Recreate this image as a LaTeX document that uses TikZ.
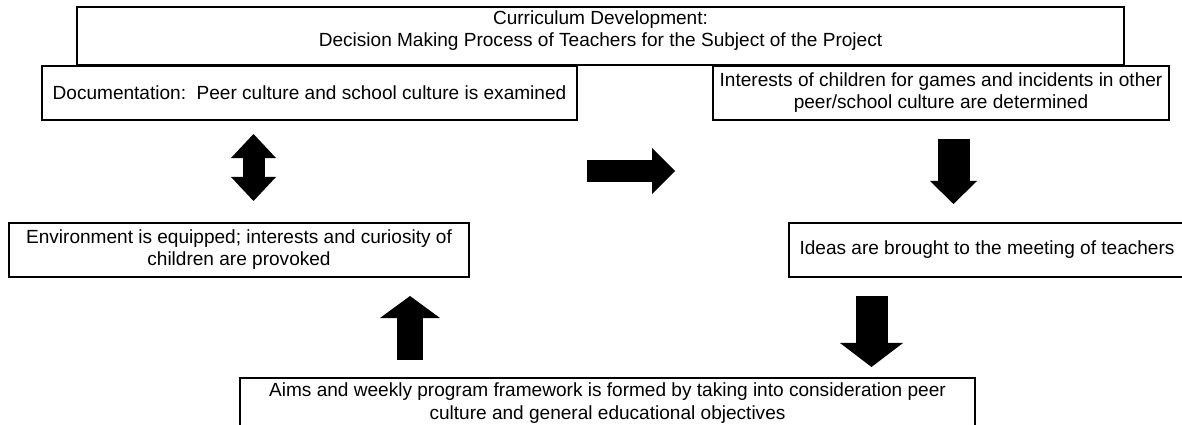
\documentclass[tikz,border=0pt]{standalone}
\usepackage{fontspec}
\setmainfont{Liberation Sans}
\usepackage{tikz}
\usetikzlibrary{arrows.meta, positioning}

\begin{document}
\begin{tikzpicture}[
    x=0.025cm, y=-0.025cm,
    stepbox/.style={draw, line width=1pt, inner sep=0pt, align=center, minimum height=1.35cm, font=\fontsize{13.55}{15.75}\selectfont},
    blockarrow/.style={line width=#1, line cap=butt}
]
    \useasboundingbox (0,0) rectangle (1182,425);

    % Boxes
    \node[stepbox, minimum width=26.175cm, minimum height=1.45cm, text depth=10pt] (title) at (600.5,36) {Curriculum Development:\\Decision Making Process of Teachers for the Subject of the Project};
    \node[stepbox, minimum width=13.375cm] (doc) at (309.5,93) {Documentation:\ \ Peer culture and school culture is examined};
    \node[stepbox, minimum width=11.4cm] (interests) at (941,93) {Interests of children for games and incidents in other\\peer/school culture are determined};
    \node[stepbox, minimum width=11.5cm] (env) at (239,250) {Environment is equipped; interests and curiosity of\\children are provoked};
    \node[stepbox, minimum width=9.9cm] (ideas) at (987,250) {Ideas are brought to the meeting of teachers};
    \node[stepbox, minimum width=18.375cm, minimum height=1.25cm] (aims) at (607.5,403) {Aims and weekly program framework is formed by taking into consideration peer\\culture and general educational objectives};

    % Arrow ends
    \coordinate (dtop) at (253.5,134);
    \coordinate (dbot) at (253.5,201);
    \coordinate (rfrom) at (587,171);
    \coordinate (rto) at (675,171);
    \coordinate (d1from) at (953.5,139);
    \coordinate (d1to) at (953.5,204);
    \coordinate (ufrom) at (410,360);
    \coordinate (uto) at (410,296);
    \coordinate (d2from) at (871.5,296);
    \coordinate (d2to) at (871.5,367);

    % Block arrows
    \draw[blockarrow=0.55cm, {Triangle[length=0.6cm, width=1.125cm, line width=0pt]}-{Triangle[length=0.6cm, width=1.125cm, line width=0pt]}] (dtop) -- (dbot);
    \draw[blockarrow=0.55cm, -{Triangle[length=0.575cm, width=1.15cm, line width=0pt]}] (rfrom) -- (rto);
    \draw[blockarrow=0.8cm, -{Triangle[length=0.575cm, width=1.175cm, line width=0pt]}] (d1from) -- (d1to);
    \draw[blockarrow=0.65cm, -{Triangle[length=0.55cm, width=1.5cm, line width=0pt]}] (ufrom) -- (uto);
    \draw[blockarrow=0.8cm, -{Triangle[length=0.6cm, width=1.575cm, line width=0pt]}] (d2from) -- (d2to);
\end{tikzpicture}
\end{document}
